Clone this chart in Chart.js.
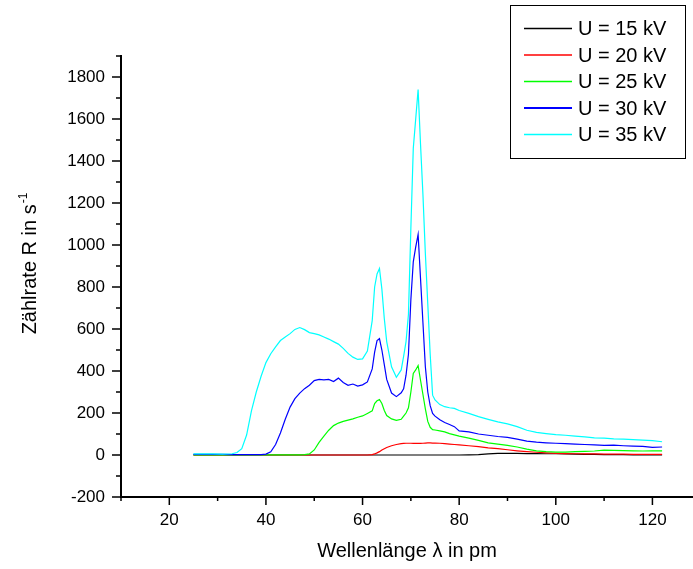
<!DOCTYPE html>
<html>
<head>
<meta charset="utf-8">
<title>Zählrate über Wellenlänge</title>
<script src="https://cdn.jsdelivr.net/npm/chart.js"></script>
<style>
  body { margin: 0; background: #ffffff; }
  canvas { display: block; }
</style>
</head>
<body>
<canvas id="chart" width="693" height="569"></canvas>
<script>
// Wellenlänge in pm (gemeinsam für alle Messreihen)
const wellenlaenge = [
  25, 27, 29, 31, 33,
  34, 35, 36, 37, 38, 39, 40, 41, 42, 43, 44, 45, 46, 47, 48, 49, 50, 51, 52, 53, 54, 55, 56, 57, 58, 59, 60, 61,
  62, 62.5, 63, 63.5, 64, 64.5, 65,
  66, 67, 68,
  68.5, 69, 69.5, 70, 70.5, 71, 71.5, 72, 72.5, 73, 73.5, 74, 74.5, 75,
  76, 77, 78, 79, 80,
  82, 84, 86, 88, 90, 92, 94, 96, 98, 100, 102, 104, 106, 108, 110, 112, 114, 116, 118, 120, 122
];

// Zählraten in 1/s
const rate15 = [
  0, 0, 0, 0, 0,
  0, 0, 0, 0, 0, 0, 0, 0, 0, 0, 0, 0, 0, 0, 0, 0, 0, 0, 0, 0, 0, 0, 0, 0, 0, 0, 0, 0,
  0, 0, 0, 0, 0, 0, 0,
  0, 0, 0,
  0, 0, 0, 0, 0, 0, 0, 0, 0, 0, 0, 0, 0, 0,
  0, 0, 0, 0, 0,
  1, 2, 5, 8, 8, 8, 7, 7, 6, 6, 5, 4, 3, 3, 2, 2, 2, 1, 1, 1, 1
];
const rate20 = [
  0, 0, 0, 0, 0,
  0, 0, 0, 0, 0, 0, 0, 0, 0, 0, 0, 0, 0, 0, 0, 0, 0, 0, 0, 0, 0, 0, 0, 0, 0, 0, 0, 0,
  2, 5, 10, 16, 24, 30, 36,
  44, 50, 54,
  55, 56, 56, 56, 55, 55, 55, 55, 56, 57, 58, 58, 57, 57,
  56, 54, 52, 50, 48,
  44, 40, 34, 30, 25, 20, 16, 13, 10, 8, 7, 6, 5, 5, 4, 4, 4, 3, 3, 3, 3
];
const rate25 = [
  1, 1, 1, 1, 1,
  1, 1, 1, 1, 1, 1, 1, 1, 1, 1, 1, 1, 1, 1, 2, 5, 24, 60, 90, 118, 140, 152, 160, 166, 172, 180, 186, 198,
  210, 245, 258, 264, 245, 212, 188,
  172, 165, 170,
  185, 200, 225, 300, 388, 405, 426, 356, 288, 220, 160, 132, 121, 119,
  115, 110, 102, 96, 90,
  80, 70, 58, 52, 46, 38, 28, 20, 16, 14, 14, 16, 17, 19, 23, 22, 21, 20, 19, 20, 20
];
const rate30 = [
  3, 3, 3, 3, 2,
  2, 2, 2, 2, 2, 2, 4, 15, 50, 105, 170, 228, 268, 295, 316, 332, 354, 360, 358, 360, 350, 366, 345, 332, 338, 328, 334, 348,
  410, 490, 545, 554, 500, 430, 360,
  295, 278, 296,
  315, 380, 480, 740, 920, 990, 1050, 840, 630, 420, 300, 235, 198, 185,
  168, 155, 145, 135, 115,
  110, 100, 94, 88, 84, 76, 66, 61, 58, 56, 54, 52, 50, 48, 46, 47, 44, 42, 41, 36, 38
];
const rate35 = [
  5, 5, 5, 4, 6,
  12, 30, 95, 210, 300, 375, 440, 482, 515, 545, 562, 578, 598, 607, 597, 583, 578, 572, 562, 552, 540, 528, 508, 484, 466, 455, 458, 495,
  640, 800, 862, 888, 790, 650, 540,
  420, 370, 405,
  470, 540, 670, 1080, 1460, 1600, 1740, 1480, 1240, 960, 720, 480, 285, 262,
  240, 230, 225, 222, 212,
  198, 183, 170, 158, 148, 135, 118, 108, 102, 97, 94, 90, 86, 82, 80, 77, 76, 73, 71, 68, 63
];

const spannungen = ['U = 15 kV', 'U = 20 kV', 'U = 25 kV', 'U = 30 kV', 'U = 35 kV'];
const farben = ['#000000', '#ff0000', '#00ff00', '#0000ff', '#00ffff'];
const reihen = [rate15, rate20, rate25, rate30, rate35];

const schrift = 'Arial, "Liberation Sans", sans-serif';

// Teilstriche, y-Achsentitel mit Hochstellung und Legendenkasten
const zusatz = {
  id: 'zusatz',
  afterDraw(chart) {
    const { ctx, chartArea, scales: { x, y } } = chart;
    ctx.save();

    ctx.strokeStyle = '#000';
    ctx.lineWidth = 1.5;
    ctx.beginPath();
    for (let v = 10; v <= 120; v += 10) {
      const px = x.getPixelForValue(v);
      const len = v % 20 === 0 ? 8 : 4;
      ctx.moveTo(px, chartArea.bottom);
      ctx.lineTo(px, chartArea.bottom + len);
    }
    for (let v = -200; v <= 1900; v += 100) {
      const py = y.getPixelForValue(v);
      const len = v % 200 === 0 ? 9 : 5;
      ctx.moveTo(chartArea.left, py);
      ctx.lineTo(chartArea.left - len, py);
    }
    ctx.stroke();

    // y-Titel: "Zählrate R in s" mit hochgestelltem "-1"
    const haupt = 'Zählrate R in s';
    const hoch = '-1';
    ctx.fillStyle = '#000';
    ctx.font = '20px ' + schrift;
    const w1 = ctx.measureText(haupt).width;
    ctx.font = '12px ' + schrift;
    const w2 = ctx.measureText(hoch).width;
    ctx.translate(36, 264);
    ctx.rotate(-Math.PI / 2);
    ctx.textBaseline = 'alphabetic';
    ctx.textAlign = 'left';
    const start = -(w1 + w2) / 2;
    ctx.font = '20px ' + schrift;
    ctx.fillText(haupt, start, 0);
    ctx.font = '12px ' + schrift;
    ctx.fillText(hoch, start + w1 + 1, -9);
    ctx.setTransform(1, 0, 0, 1, 0, 0);

    // Legende
    ctx.fillStyle = '#fff';
    ctx.fillRect(510.5, 5.5, 175, 153);
    ctx.strokeStyle = '#000';
    ctx.lineWidth = 1;
    ctx.strokeRect(510.5, 5.5, 175, 153);
    ctx.font = '20px ' + schrift;
    ctx.textBaseline = 'middle';
    spannungen.forEach((text, i) => {
      const zy = 28.5 + i * 26.5;
      ctx.strokeStyle = farben[i];
      ctx.lineWidth = i === 3 ? 1.8 : 1.3;
      ctx.beginPath();
      ctx.moveTo(524, zy);
      ctx.lineTo(572, zy);
      ctx.stroke();
      ctx.fillStyle = '#000';
      ctx.fillText(text, 578, zy + 1);
    });

    ctx.restore();
  }
};

const ctx = document.getElementById('chart').getContext('2d');
const chart = new Chart(ctx, {
  type: 'line',
  data: {
    datasets: reihen.map((werte, i) => ({
      label: spannungen[i],
      data: wellenlaenge.map((w, k) => ({ x: w, y: werte[k] })),
      borderColor: farben[i],
      borderWidth: 1.2,
      pointRadius: 0,
      tension: 0,
      fill: false,
      order: 4 - i
    }))
  },
  options: {
    responsive: false,
    animation: false,
    layout: { padding: { top: 56, right: 0, left: 0, bottom: 0 } },
    plugins: {
      legend: { display: false },
      tooltip: { enabled: false }
    },
    scales: {
      x: {
        type: 'linear',
        min: 10,
        max: 128.4,
        afterFit: s => { s.height = 72; },
        grid: { display: false, drawTicks: false },
        border: { display: true, color: '#000', width: 2 },
        ticks: {
          stepSize: 20,
          includeBounds: false,
          padding: 13,
          autoSkip: false,
          maxRotation: 0,
          color: '#000',
          font: { family: schrift, size: 17 },
          callback: v => (v % 20 === 0 ? v : '')
        },
        title: {
          display: true,
          text: 'Wellenlänge λ in pm',
          color: '#000',
          font: { family: schrift, size: 20 },
          padding: { top: 4, bottom: 6 }
        }
      },
      y: {
        type: 'linear',
        min: -200,
        max: 1900,
        afterFit: s => { s.width = 121; },
        grid: { display: false, drawTicks: false },
        border: { display: true, color: '#000', width: 2 },
        ticks: {
          stepSize: 200,
          padding: 16,
          autoSkip: false,
          color: '#000',
          font: { family: schrift, size: 17 },
          callback: v => (v % 200 === 0 ? v : '')
        }
      }
    }
  },
  plugins: [zusatz]
});
</script>
</body>
</html>
